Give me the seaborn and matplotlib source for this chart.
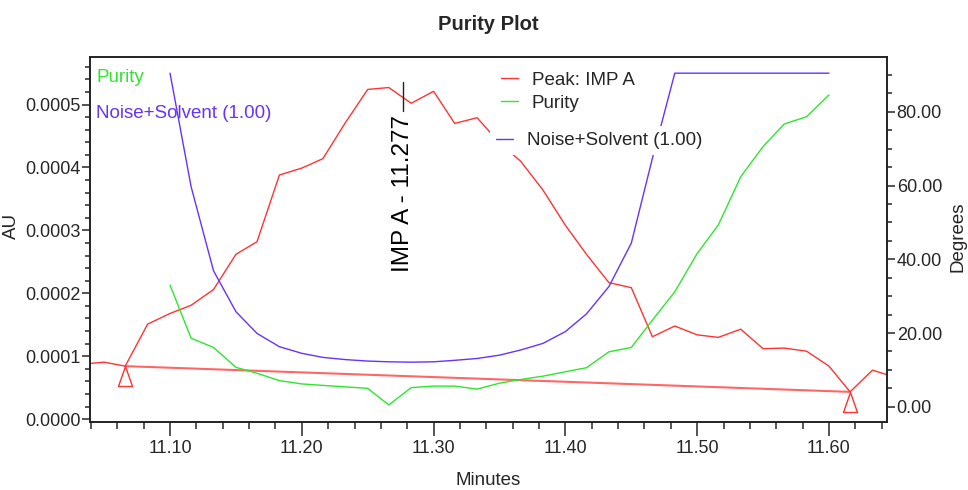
import numpy as np
import seaborn as sns
import matplotlib.pyplot as plt
from matplotlib.path import Path
from matplotlib.ticker import MultipleLocator, FormatStrFormatter

sns.set_style("ticks")
plt.rcParams['font.family'] = ['Liberation Sans', 'DejaVu Sans']

# retention times (minutes), one point per second
times = [11.033, 11.050, 11.066, 11.083, 11.100, 11.116, 11.133, 11.150, 11.166, 11.183,
         11.200, 11.216, 11.233, 11.250, 11.266, 11.283, 11.300, 11.316, 11.333, 11.350,
         11.366, 11.383, 11.400, 11.416, 11.433, 11.450, 11.466, 11.483, 11.500, 11.516,
         11.533, 11.550, 11.566, 11.583, 11.600, 11.616, 11.633, 11.650]

# Peak: IMP A (AU)
peak = [0.0000874, 0.0000906, 0.0000843, 0.000151, 0.000168, 0.000181, 0.000206, 0.000262,
        0.000282, 0.000388, 0.000399, 0.000414, 0.000471, 0.000524, 0.000527, 0.000502,
        0.000521, 0.000470, 0.000479, 0.000439, 0.000410, 0.000364, 0.000308, 0.000262,
        0.000217, 0.000209, 0.000131, 0.000148, 0.000134, 0.000130, 0.000143, 0.000112,
        0.000113, 0.000108, 0.0000843, 0.0000434, 0.0000779, 0.0000668]

# purity angle and noise+solvent threshold (degrees), 11.100 .. 11.600
purity = [33.0, 18.6, 16.1, 10.7, 9.1, 7.1, 6.2, 5.8, 5.4, 5.0, 0.5, 5.2, 5.6, 5.6, 4.8,
          6.4, 7.4, 8.3, 9.5, 10.6, 14.9, 16.1, 23.5, 31.2, 41.6, 49.3, 62.4, 70.6, 76.7,
          78.7, 84.6]
noise = [90.5, 59.7, 36.9, 25.8, 19.9, 16.3, 14.5, 13.4, 12.8, 12.4, 12.2, 12.1, 12.2,
         12.6, 13.1, 14.0, 15.4, 17.2, 20.4, 25.2, 32.6, 44.4, 67.4, 90.5, 90.5, 90.5,
         90.5, 90.5, 90.5, 90.5, 90.5]
angle_times = times[4:35]

# integration start / end of the peak
peak_start, peak_end = 2, 35
apex_time = 11.277
apex_label = "IMP A - 11.277"

red = '#ff3333'
green = '#2ee62e'
blue = '#6633ff'

fig, ax = plt.subplots(figsize=(9.68, 4.9), dpi=100)
fig.subplots_adjust(left=0.093, right=0.9163, bottom=0.139, top=0.883)
ax2 = ax.twinx()

sns.lineplot(x=times, y=peak, ax=ax, color=red, linewidth=1.0, legend=False)
base_x = [times[peak_start], times[peak_end]]
base_y = [peak[peak_start], peak[peak_end]]
sns.lineplot(x=base_x, y=base_y, ax=ax, color=red, linewidth=1.5, alpha=0.75, legend=False)

# open triangles with apex on the peak start / end points
tri = Path([(0, 0), (-0.35, -1), (0.35, -1), (0, 0)],
           [Path.MOVETO, Path.LINETO, Path.LINETO, Path.CLOSEPOLY])
ax.plot(base_x, base_y, linestyle='none', marker=tri, markersize=28.8,
        markerfacecolor='none', markeredgecolor=red, markeredgewidth=1.0)

sns.lineplot(x=angle_times, y=purity, ax=ax2, color=green, linewidth=1.0, legend=False)
sns.lineplot(x=angle_times, y=noise, ax=ax2, color=blue, linewidth=1.0, legend=False)

# apex marker and label
ax.plot([apex_time, apex_time], [0.000489, 0.000536], color='#222222', linewidth=1.0)
ax.text(apex_time, 0.000484, apex_label, rotation=90, ha='center', va='top',
        fontsize=17.5, color='black')

ax.set_xlim(11.0393, 11.644)
ax.set_ylim(-0.0000043, 0.000575)
ax2.set_ylim(-4.1, 94.8)

ax.xaxis.set_major_locator(MultipleLocator(0.1))
ax.xaxis.set_minor_locator(MultipleLocator(0.02))
ax.xaxis.set_major_formatter(FormatStrFormatter('%.2f'))
ax.yaxis.set_major_locator(MultipleLocator(0.0001))
ax.yaxis.set_minor_locator(MultipleLocator(0.00002))
ax.yaxis.set_major_formatter(FormatStrFormatter('%.4f'))
ax2.yaxis.set_major_locator(MultipleLocator(20))
ax2.yaxis.set_minor_locator(MultipleLocator(5))
ax2.yaxis.set_major_formatter(FormatStrFormatter('%.2f'))

ax.tick_params(axis='x', which='major', length=10, width=1.1, labelsize=13, pad=3)
ax.tick_params(axis='x', which='minor', length=5, width=1.1)
ax.tick_params(axis='y', which='major', length=6, width=1.1, labelsize=13, pad=1)
ax.tick_params(axis='y', which='minor', length=3.5, width=1.1)
ax2.tick_params(axis='y', which='major', length=6, width=1.1, labelsize=13, pad=1)
ax2.tick_params(axis='y', which='minor', length=3.5, width=1.1)
for a in (ax, ax2):
    for s in a.spines.values():
        s.set_linewidth(1.2)
        s.set_color('#222222')

ax.set_title("Purity Plot", fontsize=14.5, fontweight='bold', pad=20)
ax.set_xlabel("Minutes", fontsize=13.5)
ax.set_ylabel("AU", fontsize=13.5)
ax2.set_ylabel("Degrees", fontsize=13.5)
ax.xaxis.set_label_coords(0.4994, -0.138)
ax.yaxis.set_label_coords(-0.088, 0.537)
ax2.yaxis.set_label_coords(1.078, 0.507)

# text-only key at top left
ax.text(0.0075, 0.946, "Purity", transform=ax.transAxes, color=green,
        fontsize=13.5, va='center', ha='left')
ax.text(0.0075, 0.847, "Noise+Solvent (1.00)", transform=ax.transAxes, color=blue,
        fontsize=13.5, va='center', ha='left')

# line key on the right (white box hides the traces behind it)
h_peak, h_pur, h_noise = ax.lines[0], ax2.lines[0], ax2.lines[1]
leg_kw = dict(loc='upper left', bbox_transform=fig.transFigure, fontsize=13.5,
              frameon=True, facecolor='white', edgecolor='none', framealpha=1,
              fancybox=False, borderpad=0.3, handlelength=0.9, handletextpad=0.75,
              labelspacing=0.3, borderaxespad=0)
leg1 = ax2.legend([h_peak, h_pur], ["Peak: IMP A", "Purity"],
                  bbox_to_anchor=(0.5114, 0.865), **leg_kw)
ax2.add_artist(leg1)
ax2.legend([h_noise], ["Noise+Solvent (1.00)"],
           bbox_to_anchor=(0.5062, 0.742), **leg_kw)

plt.savefig("out.png", dpi=100)
